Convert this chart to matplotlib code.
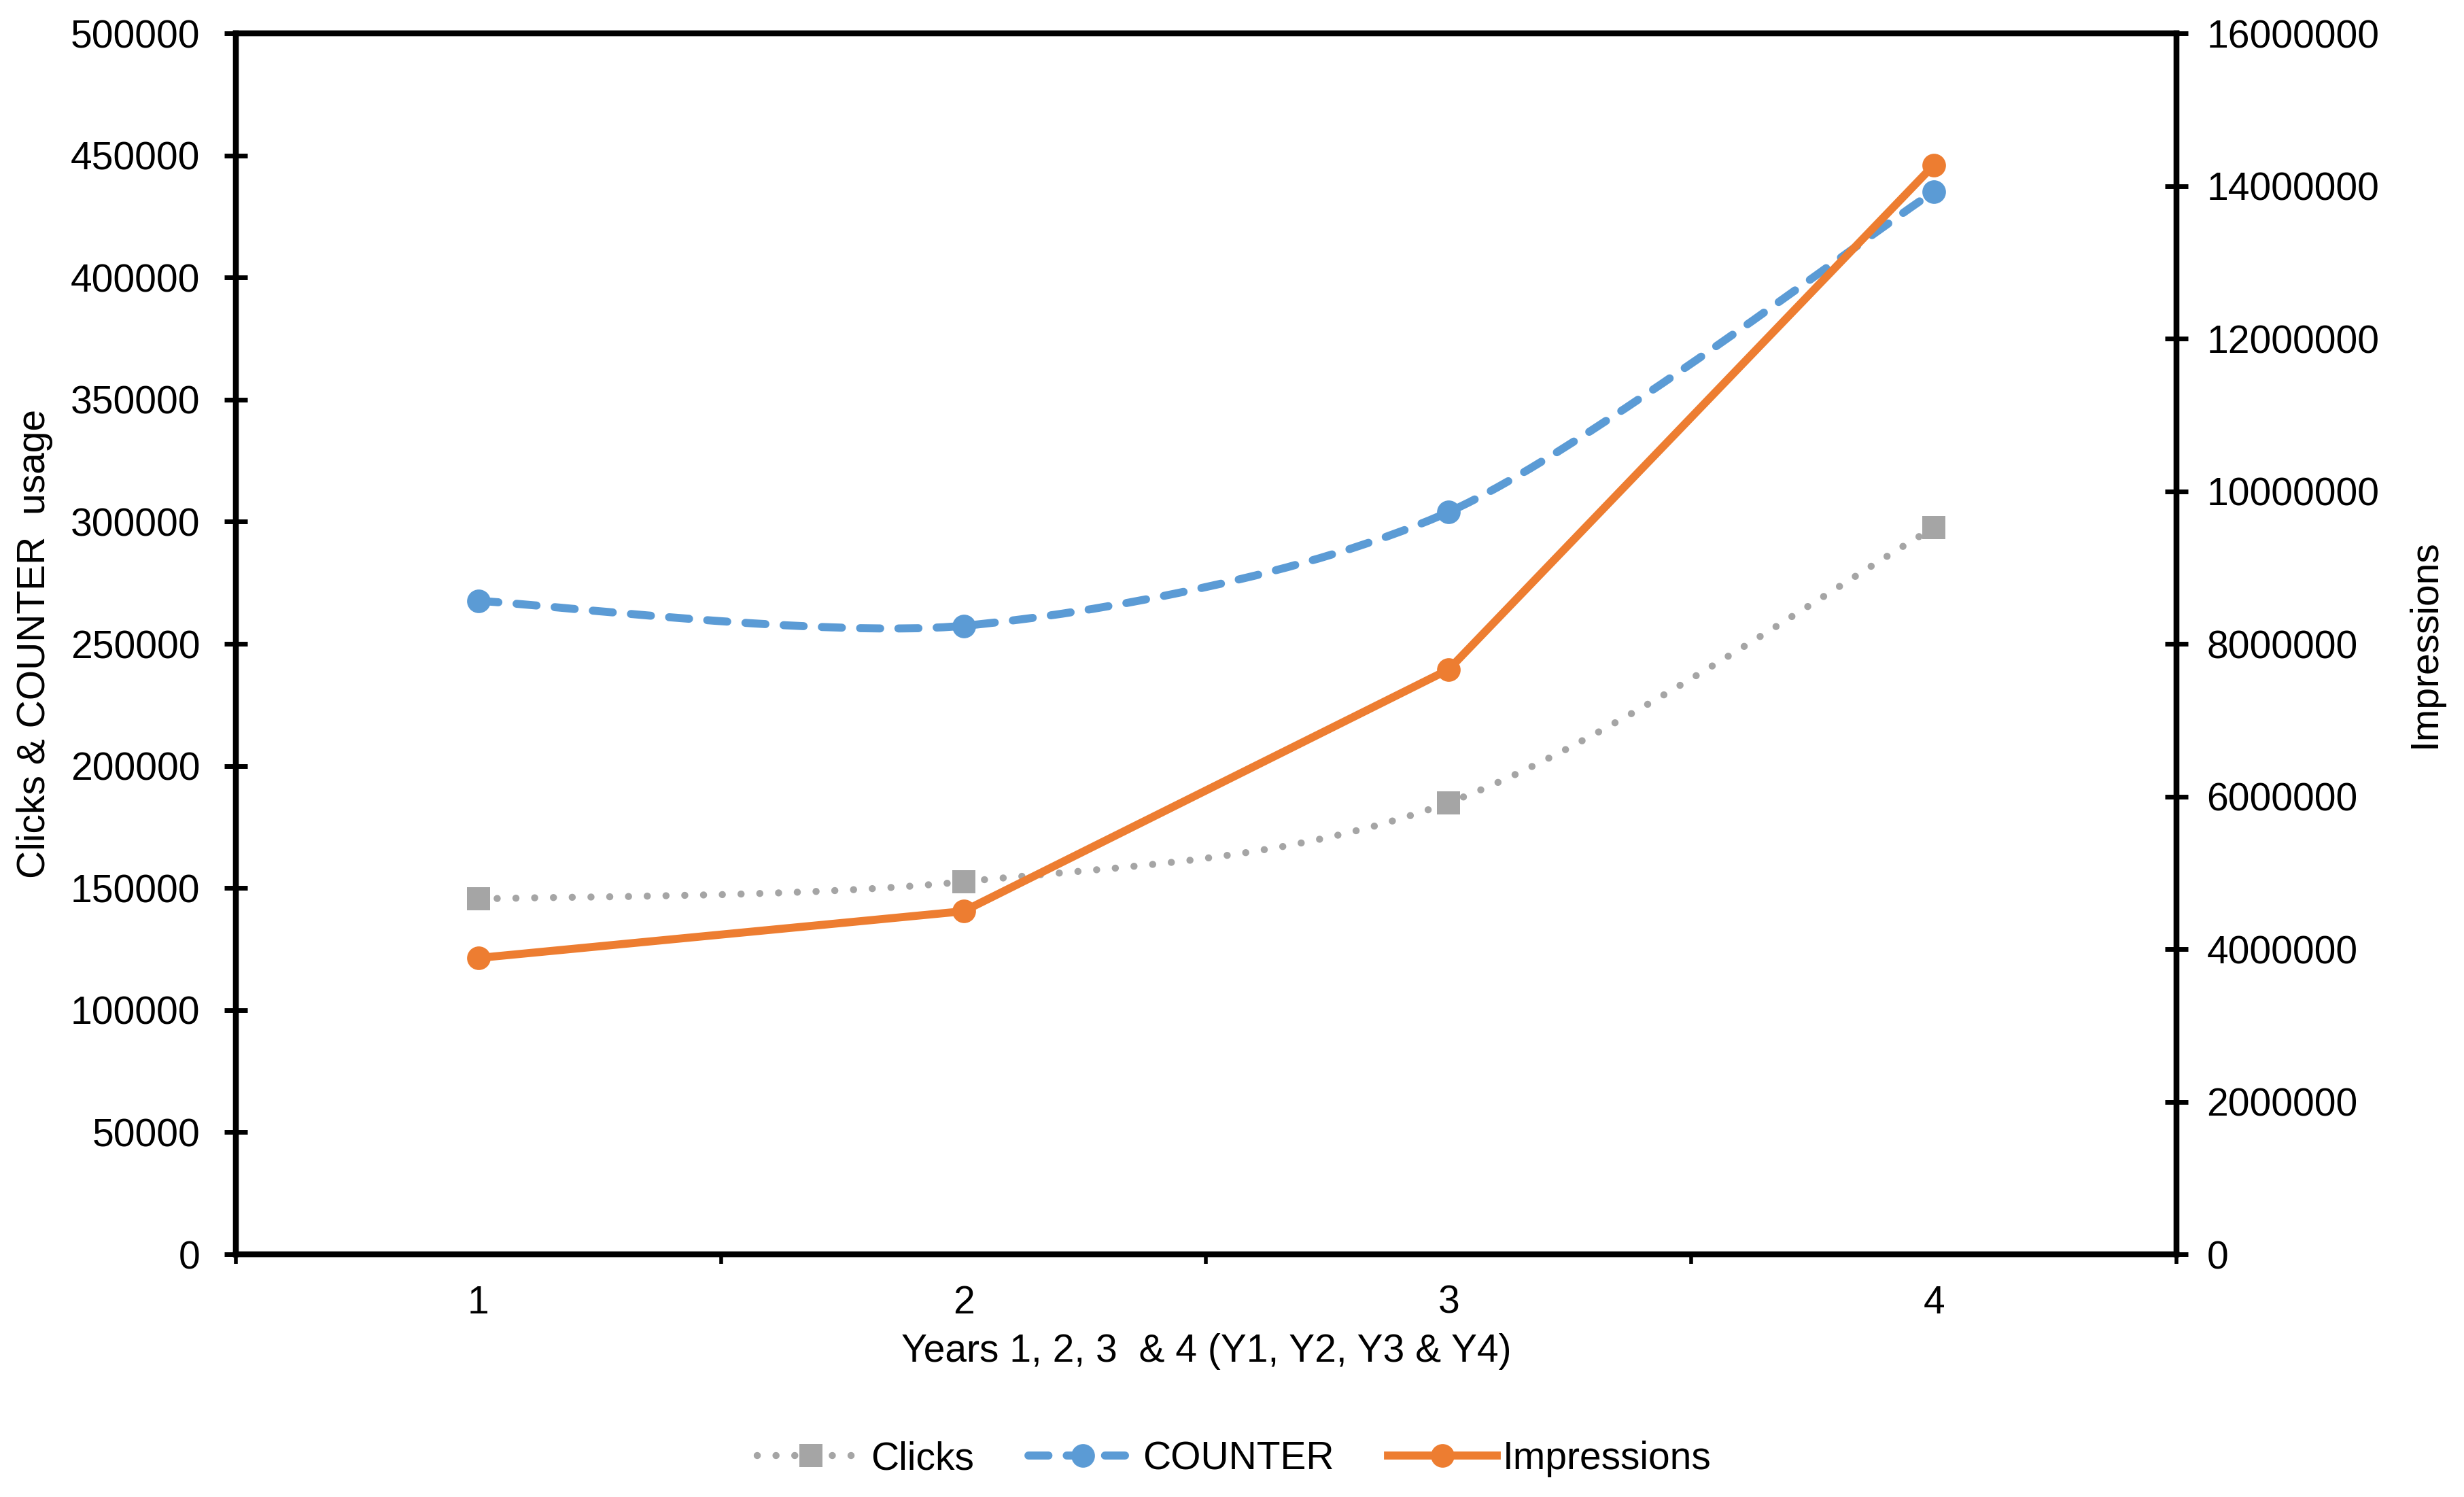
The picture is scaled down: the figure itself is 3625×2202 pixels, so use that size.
import numpy as np
import matplotlib
matplotlib.use("Agg")
import matplotlib.pyplot as plt
from matplotlib.path import Path
from matplotlib.patches import PathPatch
from matplotlib.lines import Line2D
from matplotlib.ticker import FuncFormatter

plt.rcParams['font.family'] = ['Liberation Sans', 'DejaVu Sans']

# data
years = [1, 2, 3, 4]
year_labels = ["1", "2", "3", "4"]
clicks = [145500, 152600, 185000, 297500]
counter = [267600, 257400, 304000, 435200]
impressions = [3884000, 4496000, 7664000, 14275000]

GREY = "#A5A5A5"
BLUE = "#5B9BD5"
ORANGE = "#ED7D31"
FS = 41
MS = 25


def smooth_path(x, y, k=1 / 6):
    """Excel-like smoothed line (Catmull-Rom as cubic Bezier) through the points."""
    pts = np.column_stack([x, y]).astype(float)
    n = len(pts)
    verts = [pts[0]]
    codes = [Path.MOVETO]
    for i in range(n - 1):
        p0 = pts[max(i - 1, 0)]
        p1 = pts[i]
        p2 = pts[i + 1]
        p3 = pts[min(i + 2, n - 1)]
        verts += [p1 + (p2 - p0) * k, p2 - (p3 - p1) * k, p2]
        codes += [Path.CURVE4] * 3
    return Path(verts, codes)


fig = plt.figure(figsize=(36.25, 22.02), dpi=100)
ax = fig.add_axes([0.0957, 0.1621, 0.7876, 0.8156])
ax2 = ax.twinx()

dot_style = (0, (0.01, 2.64))
dash_style = (0, (2.5, 2.27))

# Clicks - dotted smoothed
ax.add_patch(PathPatch(smooth_path(years, clicks), fill=False, edgecolor=GREY,
                       lw=7.5, linestyle=dot_style, capstyle='round'))
ax.plot(years, clicks, linestyle='none', marker='s', markersize=MS - 1,
        color=GREY, markeredgewidth=0)

# COUNTER - dashed smoothed
ax.add_patch(PathPatch(smooth_path(years, counter, k=0.14), fill=False,
                       edgecolor=BLUE, lw=8.5, linestyle=dash_style,
                       capstyle='round'))
ax.plot(years, counter, linestyle='none', marker='o', markersize=MS,
        color=BLUE, markeredgewidth=0)

# Impressions - solid, right axis
ax2.plot(years, impressions, color=ORANGE, lw=8.5, marker='o', markersize=MS,
         markeredgewidth=0, solid_capstyle='round')

ax.set_xlim(0.5, 4.5)
ax.set_ylim(0, 500000)
ax.set_yticks(np.arange(0, 500001, 50000))
ax2.set_ylim(0, 16000000)
ax2.set_yticks(np.arange(0, 16000001, 2000000))

plain = FuncFormatter(lambda v, p: f"{v:.0f}")
ax.yaxis.set_major_formatter(plain)
ax2.yaxis.set_major_formatter(plain)

ax.set_xticks(np.arange(0.5, 4.6, 1.0))
ax.set_xticklabels([])
ax.set_xticks(years, minor=True)
ax.set_xticklabels(year_labels, minor=True)

ax.tick_params(axis='x', which='major', direction='out', length=10, width=4)
ax.tick_params(axis='x', which='minor', length=0, pad=32, labelsize=FS)
ax.tick_params(axis='y', direction='inout', length=24, width=5, pad=26,
               labelsize=FS)
ax2.tick_params(axis='y', direction='inout', length=24, width=5, pad=20,
                labelsize=FS)

for a in (ax, ax2):
    for s in a.spines.values():
        s.set_linewidth(6)
        s.set_color("black")

ax.set_ylabel("Clicks & COUNTER  usage", fontsize=FS)
ax.yaxis.set_label_coords(-0.1037, 0.5)
ax.yaxis.label.set_verticalalignment('center')
ax2.set_ylabel("Impressions", fontsize=FS)
ax2.yaxis.set_label_coords(1.128, 0.5)
ax2.yaxis.label.set_verticalalignment('center')

ax.set_xlabel("Years 1, 2, 3  & 4 (Y1, Y2, Y3 & Y4)", fontsize=FS)
ax.xaxis.set_label_coords(0.5, -0.0796)
ax.xaxis.label.set_verticalalignment('center')

handles = [
    Line2D([], [], color=GREY, lw=7.5, linestyle=dot_style, dash_capstyle='round',
           marker='s', markersize=MS - 1, markeredgewidth=0),
    Line2D([], [], color=BLUE, lw=8.5, linestyle=dash_style, dash_capstyle='round',
           marker='o', markersize=MS, markeredgewidth=0),
    Line2D([], [], color=ORANGE, lw=8.5, marker='o', markersize=MS,
           markeredgewidth=0),
]
fig.legend(handles, ["Clicks", "COUNTER", "Impressions"], loc='center',
           bbox_to_anchor=(0.5008, 0.0254), ncol=3, frameon=False,
           fontsize=FS, handlelength=2.8, handletextpad=0.15,
           columnspacing=1.4, numpoints=1)

fig.savefig("out.png", dpi=100)
